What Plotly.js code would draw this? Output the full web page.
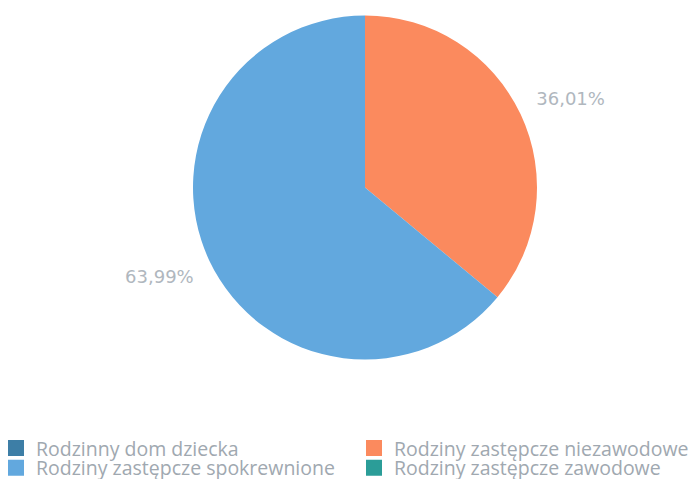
<!DOCTYPE html>
<html>
<head>
<meta charset="utf-8">
<script src="https://cdn.plot.ly/plotly-3.0.1.min.js"></script>
<style>html,body{margin:0;padding:0;background:#fff;}#chart{width:698px;height:479px;}</style>
</head>
<body>
<div id="chart"></div>
<script>
const categories = ['Rodzinny dom dziecka', 'Rodziny zastępcze niezawodowe', 'Rodziny zastępcze spokrewnione', 'Rodziny zastępcze zawodowe'];
const shares = [0, 36.01, 63.99, 0];
const sliceColors = ['#3d7ea6', '#fb8a5e', '#62a8de', '#2b9d98'];

const labelText = shares.map(v => v > 0 ? v.toFixed(2).replace('.', ',') + '%' : '');

const pieTrace = {
  type: 'pie',
  labels: categories,
  values: shares,
  textinfo: 'none',
  sort: false,
  direction: 'clockwise',
  rotation: 0,
  showlegend: false,
  domain: {x: [0.24174, 0.75826], y: [0.04133, 0.95867]},
  marker: {colors: sliceColors, line: {width: 0}},
  hoverinfo: 'label+percent'
};

// transparent ring carrying the outside percentage labels a bit further out
const labelTrace = {
  type: 'pie',
  labels: categories,
  values: shares,
  text: labelText,
  textinfo: 'text',
  textposition: 'outside',
  sort: false,
  direction: 'clockwise',
  rotation: -2.5,
  domain: {x: [0, 1], y: [0, 1]},
  showlegend: false,
  marker: {colors: categories.map(() => 'rgba(0,0,0,0)'), line: {width: 0}},
  outsidetextfont: {family: 'DejaVu Sans, sans-serif', size: 18, color: '#b0b7be'},
  hoverinfo: 'skip'
};

// legend entries: one small legend per entry, arranged in two columns
const legendIds = ['legend', 'legend2', 'legend3', 'legend4'];
const legendTraces = categories.map((name, i) => ({
  type: 'scatter',
  mode: 'markers',
  x: [null], y: [null],
  name: name,
  legend: legendIds[i],
  marker: {symbol: 'square', size: 16, color: sliceColors[i], line: {width: 0}},
  hoverinfo: 'skip'
}));

const legendFont = {family: 'Open Sans, sans-serif', size: 19.5, color: '#a0a8b0'};
const colX = [-0.05405, 0.48348];   // paper x of the two legend columns
const rowY = [0.0640, 0.0230];      // container y (middle) of the two rows

function legendBox(i) {
  return {
    orientation: 'v',
    xref: 'paper', yref: 'container',
    x: colX[i % 2], y: rowY[Math.floor(i / 2)],
    xanchor: 'left', yanchor: 'middle',
    bgcolor: 'rgba(0,0,0,0)',
    traceorder: 'normal', tracegroupgap: 0,
    font: legendFont, itemclick: false
  };
}

const layout = {
  width: 698,
  height: 479,
  margin: {l: 32, r: 0, t: 0, b: 104, autoexpand: false},
  paper_bgcolor: '#ffffff',
  plot_bgcolor: 'rgba(0,0,0,0)',
  xaxis: {visible: false},
  yaxis: {visible: false},
  showlegend: true,
  legend: legendBox(0),
  legend2: legendBox(1),
  legend3: legendBox(2),
  legend4: legendBox(3)
};

Plotly.newPlot('chart', [pieTrace, labelTrace].concat(legendTraces), layout, {displayModeBar: false, staticPlot: true});
</script>
</body>
</html>
